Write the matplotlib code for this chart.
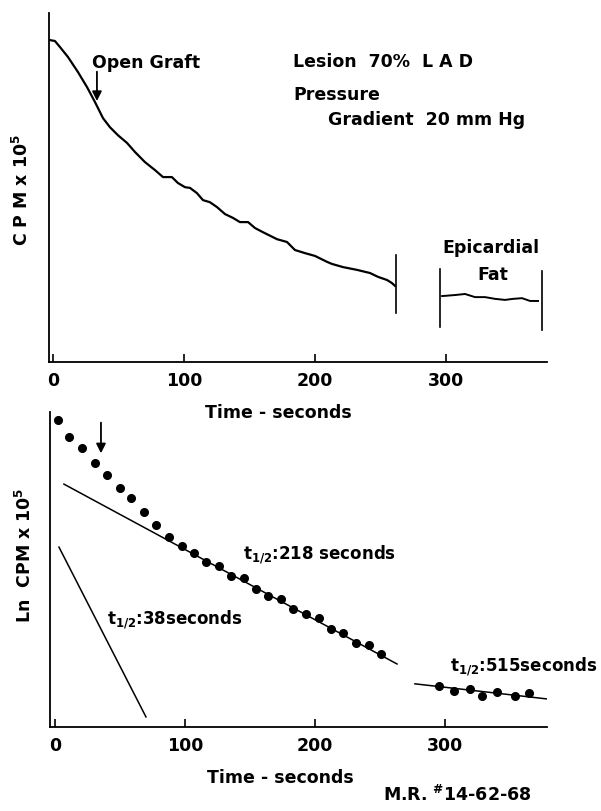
import numpy as np
import matplotlib
matplotlib.use('Agg')
import matplotlib.pyplot as plt

plt.rcParams['font.family'] = 'DejaVu Sans'
plt.rcParams['font.weight'] = 'bold'
plt.rcParams['mathtext.fontset'] = 'dejavusans'

#%% Data
# top panel: recorded washout curve (arbitrary units, 0..10)
curve_t = [-3, 1.5, 5.3, 11.5, 19.1, 26.0, 32.1, 38.2, 43.5, 49.6, 56.5, 62.6,
           70.2, 77.9, 84.0, 90.8, 95.4, 100.8, 104.6, 109.9, 114.5, 119.8,
           125.2, 131.3, 137.4, 142.7, 148.9, 154.2, 160.3, 171.0, 178.6,
           184.7, 192.4, 200.0, 209.2, 213.0, 221.4, 232.1, 242.0, 248.1,
           255.0, 258.8, 261.1]
curve_y = [9.23, 9.20, 9.03, 8.74, 8.31, 7.88, 7.45, 6.99, 6.73, 6.50, 6.28, 6.02,
           5.73, 5.50, 5.30, 5.30, 5.13, 5.01, 4.99, 4.84, 4.64, 4.58,
           4.44, 4.24, 4.13, 4.01, 4.01, 3.84, 3.72, 3.52, 3.44,
           3.21, 3.12, 3.04, 2.87, 2.81, 2.72, 2.64, 2.55, 2.44,
           2.35, 2.26, 2.18]
fat_t = [297.0, 306.9, 314.5, 322.1, 329.8, 337.4, 345.0, 351.1, 358.0, 364.1, 370.2]
fat_y = [1.89, 1.92, 1.95, 1.86, 1.86, 1.81, 1.78, 1.81, 1.83, 1.75, 1.75]

# bottom panel: ln counts, sampled points
pts_t = [2.3, 10.8, 20.8, 30.8, 40.0, 50.0, 58.5, 68.5, 77.7, 87.7, 97.7, 106.9,
         116.2, 126.2, 135.4, 145.4, 154.6, 163.8, 173.8, 183.1, 193.1, 203.1,
         212.3, 221.5, 231.5, 241.5, 250.8]
pts_y = [9.75, 9.21, 8.86, 8.38, 8.00, 7.59, 7.27, 6.83, 6.41, 6.03, 5.75, 5.52,
         5.24, 5.11, 4.79, 4.73, 4.38, 4.16, 4.06, 3.75, 3.59, 3.46,
         3.11, 2.98, 2.67, 2.60, 2.32]
late_t = [295.4, 306.9, 319.2, 328.5, 340.0, 353.8, 364.6]
late_y = [1.30, 1.14, 1.21, 0.98, 1.11, 0.98, 1.08]

# fitted half-life lines (end points)
fit218_t, fit218_y = [6.9, 263.1], [7.71, 2.00]
fit38_t, fit38_y = [3.1, 70.0], [5.71, 0.32]
fit515_t, fit515_y = [276.9, 378.5], [1.37, 0.89]

ticks = [0, 100, 200, 300]
FS = 12.5


def style(ax, xlim):
    ax.set_xlim(*xlim)
    ax.set_ylim(0, 10)
    ax.patch.set_visible(False)
    for s in ['top', 'right']:
        ax.spines[s].set_visible(False)
    for s in ['left', 'bottom']:
        ax.spines[s].set_linewidth(1.3)
    ax.set_yticks([])
    ax.set_xticks(ticks)
    ax.set_xticklabels([str(t) for t in ticks], fontsize=FS, fontweight='bold')
    ax.tick_params(axis='x', direction='in', length=6, width=1.2, pad=7)


fig = plt.figure(figsize=(6.01, 8.11), dpi=100)

#%% Top panel
ax1 = fig.add_axes([0.0815, 0.5536, 0.8286, 0.4303])
style(ax1, (-3, 377))
ax1.plot(curve_t, curve_y, color='black', lw=1.6)
ax1.plot([261.8, 261.8], [1.40, 3.07], color='black', lw=1.2)
ax1.plot([295.4, 295.4], [1.00, 2.66], color='black', lw=1.2)
ax1.plot([373.3, 373.3], [0.92, 2.61], color='black', lw=1.2)
ax1.plot(fat_t, fat_y, color='black', lw=1.4)

ax1.annotate('', xy=(33.6, 7.40), xytext=(33.6, 8.40),
             arrowprops=dict(arrowstyle='-|>', color='black', lw=1.3,
                             mutation_scale=14))
ax1.text(29.8, 8.57, 'Open Graft', fontsize=FS, va='center', ha='left')
ax1.text(183.2, 8.60, 'Lesion  70%  L A D', fontsize=FS, va='center', ha='left')
ax1.text(183.2, 7.65, 'Pressure', fontsize=FS, va='center', ha='left')
ax1.text(209.9, 6.93, 'Gradient  20 mm Hg', fontsize=FS, va='center', ha='left')
ax1.text(334.4, 3.27, 'Epicardial', fontsize=FS, va='center', ha='center')
ax1.text(335.9, 2.49, 'Fat', fontsize=FS, va='center', ha='center')
ax1.text(-0.054, 0.493, r'C P M x 10$^{\mathbf{5}}$', fontsize=FS,
         rotation=90, va='center', ha='center', transform=ax1.transAxes)

#%% Bottom panel
ax2 = fig.add_axes([0.0832, 0.1036, 0.827, 0.3884])
style(ax2, (-3.8, 378.5))
ax2.plot(pts_t, pts_y, 'o', color='black', ms=5.5, clip_on=False)
ax2.plot(late_t, late_y, 'o', color='black', ms=5.5)
ax2.plot(fit218_t, fit218_y, color='black', lw=1.1)
ax2.plot(fit38_t, fit38_y, color='black', lw=1.1)
ax2.plot(fit515_t, fit515_y, color='black', lw=1.1)

ax2.annotate('', xy=(35.4, 8.60), xytext=(35.4, 9.75),
             arrowprops=dict(arrowstyle='-|>', color='black', lw=1.3,
                             mutation_scale=14))
ax2.text(144.6, 5.46, r'$\mathbf{t_{1/2}}$:218 seconds', fontsize=FS - 0.5,
         va='center', ha='left')
ax2.text(40.0, 3.40, r'$\mathbf{t_{1/2}}$:38seconds', fontsize=FS - 0.5,
         va='center', ha='left')
ax2.text(303.8, 1.90, r'$\mathbf{t_{1/2}}$:515seconds', fontsize=FS - 0.5,
         va='center', ha='left')
ax2.text(-0.050, 0.546, r'Ln  CPM x 10$^{\mathbf{5}}$', fontsize=FS,
         rotation=90, va='center', ha='center', transform=ax2.transAxes)

# axis titles between / below the panels
fig.text(278 / 601, 1 - 413 / 811, 'Time - seconds', fontsize=FS,
         va='center', ha='center')
fig.text(280 / 601, 1 - 778 / 811, 'Time - seconds', fontsize=FS,
         va='center', ha='center')
fig.text(0.760, 0.020, r'M.R. $^{\#}$14-62-68', fontsize=FS,
         va='center', ha='center')

fig.savefig('out.png', dpi=100)
